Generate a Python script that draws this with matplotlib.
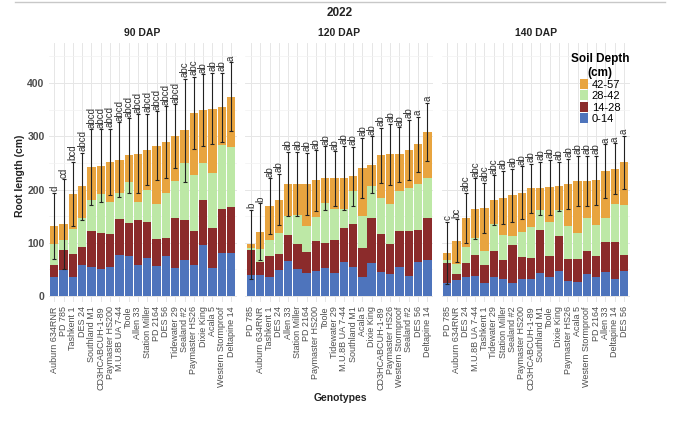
import matplotlib
matplotlib.use("Agg")
import matplotlib.pyplot as plt
import numpy as np
from matplotlib.lines import Line2D

plt.rcParams['font.family'] = ['Liberation Sans', 'DejaVu Sans']

# ---- data (root length per soil depth layer, cm) ----
genos_90 = ["Auburn 634RNR", "PD 785", "Tashkent 1", "DES 24", "Southland M1",
            "CD3HCABCUH-1-89", "Paymaster HS200", "M.U.8B UA 7-44", "Toole", "Allen 33",
            "Station Miller", "PD 2164", "DES 56", "Tidewater 29", "Sealand #2",
            "Paymaster HS26", "Dixie King", "Acala 5", "Western Stormproof", "Deltapine 14"]
d0_14_90 = [36, 49, 36, 59, 55, 51, 54, 78, 76, 58, 72, 56, 75, 53, 67, 58, 96, 52, 81, 81]
d14_28_90 = [22, 38, 43, 33, 67, 68, 63, 66, 61, 84, 67, 52, 35, 93, 75, 64, 84, 76, 83, 87]
d28_42_90 = [39, 18, 47, 54, 58, 73, 60, 50, 78, 35, 61, 64, 84, 70, 107, 106, 69, 103, 119, 112]
d42_57_90 = [35, 30, 66, 60, 62, 53, 75, 62, 49, 90, 75, 110, 95, 84, 62, 116, 100, 121, 71, 94]
err_90 = [62, 84, 60, 63, 71, 68, 62, 70, 70, 74, 67, 65, 67, 60, 97, 68, 67, 67, 65, 65]
let_90 = ["d", "cd", "bcd"] + ["abcd"] * 11 + ["abc"] * 2 + ["ab"] * 3 + ["a"]

genos_120 = ["PD 785", "Auburn 634RNR", "Tashkent 1", "DES 24", "Allen 33",
             "Station Miller", "PD 2164", "Paymaster HS200", "Toole", "Tidewater 29",
             "M.U.8B UA 7-44", "Southland M1", "Acala 5", "Dixie King", "CD3HCABCUH-1-89",
             "Paymaster HS26", "Western Stormproof", "Sealand #2", "DES 56", "Deltapine 14"]
d0_14_120 = [39, 39, 35, 49, 66, 50, 44, 47, 52, 44, 64, 54, 35, 62, 46, 42, 55, 38, 64, 67]
d14_28_120 = [47, 25, 40, 31, 48, 48, 38, 57, 48, 61, 63, 81, 56, 84, 71, 55, 67, 84, 60, 79]
d28_42_120 = [4, 25, 31, 39, 36, 54, 50, 45, 74, 59, 37, 62, 59, 60, 67, 75, 75, 80, 87, 76]
d42_57_120 = [7, 32, 63, 62, 61, 59, 79, 68, 47, 57, 58, 28, 91, 41, 80, 94, 69, 72, 74, 86]
err_120 = [65, 53, 52, 48, 60, 60, 58, 57, 60, 51, 60, 55, 56, 53, 52, 57, 51, 57, 52, 55]
let_120 = ["b", "b"] + ["ab"] * 16 + ["a", "a"]

genos_140 = ["PD 785", "Auburn 634RNR", "DES 24", "M.U.8B UA 7-44", "Tashkent 1",
             "Tidewater 29", "Station Miller", "Sealand #2", "Paymaster HS200",
             "CD3HCABCUH-1-89", "Southland M1", "Toole", "Dixie King", "Paymaster HS26",
             "Acala 5", "Western Stormproof", "PD 2164", "Allen 33", "Deltapine 14", "DES 56"]
d0_14_140 = [24, 30, 35, 37, 24, 35, 33, 25, 33, 32, 44, 35, 47, 28, 26, 41, 36, 46, 33, 47]
d14_28_140 = [38, 12, 28, 40, 34, 50, 34, 71, 41, 40, 80, 41, 65, 41, 43, 44, 39, 55, 68, 30]
d28_42_140 = [5, 18, 29, 32, 27, 51, 47, 17, 47, 58, 38, 63, 49, 62, 50, 61, 58, 45, 71, 94]
d42_57_140 = [14, 44, 55, 55, 81, 44, 71, 76, 73, 72, 40, 65, 45, 80, 97, 70, 84, 89, 67, 80]
err_140 = [58, 40, 47, 57, 47, 47, 50, 50, 50, 46, 50, 52, 46, 47, 47, 47, 46, 50, 48, 50]
let_140 = ["c", "bc"] + ["abc"] * 4 + ["ab"] * 11 + ["a"] * 3

depth_labels = ["0-14", "14-28", "28-42", "42-57"]
depth_colors = ["#4E74BC", "#8B2B2B", "#BDE8A6", "#E8A43F"]

panels = [
    ("90 DAP", genos_90, [d0_14_90, d14_28_90, d28_42_90, d42_57_90], err_90, let_90),
    ("120 DAP", genos_120, [d0_14_120, d14_28_120, d28_42_120, d42_57_120], err_120, let_120),
    ("140 DAP", genos_140, [d0_14_140, d14_28_140, d28_42_140, d42_57_140], err_140, let_140),
]

W, H = 680, 422
fig = plt.figure(figsize=(W / 100, H / 100), dpi=100)

# panel extents in pixels (left, right)
px = [(48.7, 236.6), (245.4, 432.9), (441.7, 629.6)]
top_px, bot_px = 43, 302
txt_col = "#4D4D4D"

handles = None
for i, (title, genos, layers, err, lets) in enumerate(panels):
    l, r = px[i]
    ax = fig.add_axes([l / W, 1 - bot_px / H, (r - l) / W, (bot_px - top_px) / H])
    x = np.arange(len(genos))
    bottom = np.zeros(len(genos))
    hs = []
    for vals, col, lab in zip(layers, depth_colors, depth_labels):
        b = ax.bar(x, vals, width=0.9, bottom=bottom, color=col, label=lab, zorder=2)
        hs.append(b)
        bottom = bottom + np.array(vals)
    handles = hs
    ax.errorbar(x, bottom, yerr=err, fmt="none", ecolor="#222222", elinewidth=0.8,
                capsize=1.2, capthick=0.8, zorder=3)
    for xi, t, e, s in zip(x, bottom, err, lets):
        ax.text(xi, t + e + 3, s, rotation=90, ha="center", va="bottom",
                fontsize=7, color="#333333")

    ax.set_xlim(-0.6, len(genos) - 0.4)
    ax.set_ylim(-11, 475)
    ax.set_xticks(x)
    ax.set_xticklabels(genos, rotation=90, fontsize=6.5, color=txt_col)
    ax.set_yticks([0, 100, 200, 300, 400])
    ax.set_yticks([50, 150, 250, 350, 450], minor=True)
    if i == 0:
        ax.set_yticklabels(["0", "100", "200", "300", "400"], fontsize=7.5,
                           fontweight="bold", color=txt_col)
    else:
        ax.set_yticklabels([])
    ax.tick_params(axis="both", which="both", length=0, pad=3)
    ax.grid(True, which="major", color="#E6E6E6", linewidth=0.7, zorder=0)
    ax.grid(True, which="minor", axis="y", color="#F2F2F2", linewidth=0.5, zorder=0)
    ax.set_axisbelow(True)
    for sp in ax.spines.values():
        sp.set_visible(False)
    ax.set_title(title, fontsize=7.5, fontweight="bold", pad=5, color="#222222")

fig.text(340 / W, 1 - 13 / H, "2022", ha="center", va="center",
         fontsize=8.5, fontweight="bold", color="#222222")
fig.text(340 / W, 1 - 398 / H, "Genotypes", ha="center", va="center",
         fontsize=7.5, fontweight="bold", color="#222222")
fig.text(20 / W, 1 - 176 / H, "Root length (cm)", ha="center", va="center",
         rotation=90, fontsize=7.5, fontweight="bold", color="#222222")

# thin grey rule across the top
fig.add_artist(Line2D([15 / W, 665 / W], [1 - 2 / H, 1 - 2 / H], color="#C8C8C8", lw=1))

leg = fig.legend(handles[::-1], depth_labels[::-1], title="Soil Depth\n(cm)",
                 loc="upper left", bbox_to_anchor=(563 / W, 1 - 45 / H),
                 frameon=False, fontsize=8, handlelength=0.8, handleheight=1.0,
                 labelspacing=0.05, handletextpad=0.3, borderpad=0.2,
                 title_fontproperties={"weight": "bold", "size": 8.5})
leg.get_title().set_multialignment("center")

fig.savefig("out.png", dpi=100)
